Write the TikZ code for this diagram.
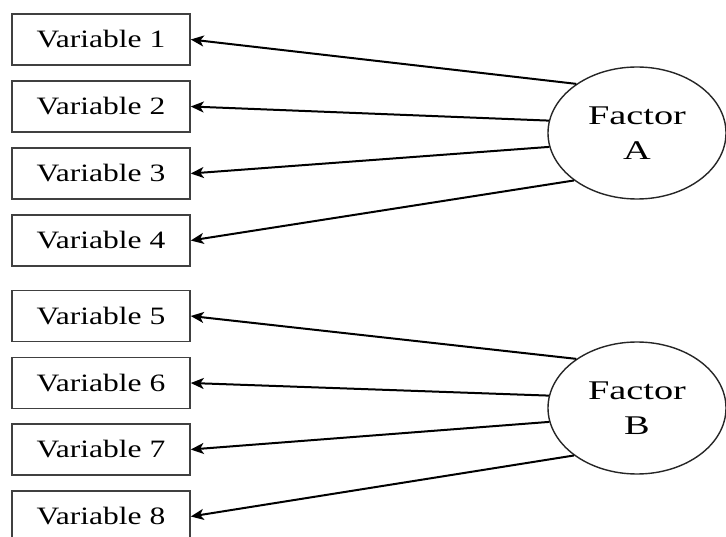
\documentclass[tikz,border=0pt]{standalone}
\usepackage{fontspec}
\setmainfont{Liberation Serif}
\usetikzlibrary{arrows.meta,shapes.geometric}

\tikzset{
  varbox/.style={draw=black!75, line width=1.5pt, minimum width=178pt, minimum height=51pt,
    inner sep=0pt, font=\fontsize{25}{30}\selectfont},
  factor/.style={draw=black!85, line width=1.4pt, ellipse, minimum width=178pt, minimum height=132pt,
    inner sep=0pt, align=center, font=\fontsize{27}{35}\selectfont},
  load/.style={line width=2pt, -{Stealth[length=13pt, width=11pt, inset=3.5pt]}},
}

\newcommand{\vtext}[1]{\scalebox{1.26}[1]{#1}}
\newcommand{\ftext}[1]{\scalebox{1.42}[1]{#1}}

\begin{document}
\begin{tikzpicture}[x=1pt, y=-1pt]
  \path[use as bounding box, clip] (0,0) rectangle (726,537);
  \fill[white] (0,0) rectangle (726,537);

  % observed variables
  \node[varbox] (v1) at (101,39.5)  {\vtext{Variable 1}};
  \node[varbox] (v2) at (101,106.5) {\vtext{Variable 2}};
  \node[varbox] (v3) at (101,173.5) {\vtext{Variable 3}};
  \node[varbox] (v4) at (101,240.5) {\vtext{Variable 4}};
  \node[varbox] (v5) at (101,316)   {\vtext{Variable 5}};
  \node[varbox] (v6) at (101,383)   {\vtext{Variable 6}};
  \node[varbox] (v7) at (101,449.5) {\vtext{Variable 7}};
  \node[varbox] (v8) at (101,516.5) {\vtext{Variable 8}};

  % latent factors
  \node[factor] (fa) at (637,133) {\ftext{Factor}\\\ftext{A}};
  \node[factor] (fb) at (637,408) {\ftext{Factor}\\\ftext{B}};

  % loadings
  \draw[load] (fa.141) -- (v1.east);
  \draw[load] (fa.172) -- (v2.east);
  \draw[load] (fa.189) -- (v3.east);
  \draw[load] (fa.217) -- (v4.east);
  \draw[load] (fb.141) -- (v5.east);
  \draw[load] (fb.172) -- (v6.east);
  \draw[load] (fb.189) -- (v7.east);
  \draw[load] (fb.217) -- (v8.east);
\end{tikzpicture}
\end{document}
